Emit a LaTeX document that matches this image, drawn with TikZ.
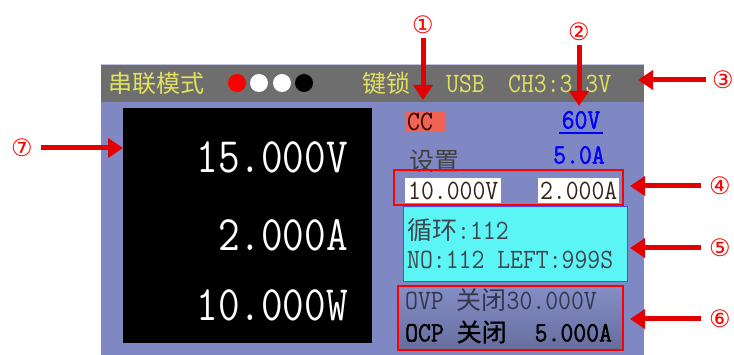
\documentclass[tikz,border=0pt]{standalone}
\usepackage{fontspec}
\usepackage{graphicx}
\setmainfont{Liberation Serif}
\newfontfamily\cjkf{Noto Sans CJK SC}
\newfontfamily\cjkb{Noto Sans CJK SC}[FakeBold=0.8]
\newfontfamily\ttb{Latin Modern Mono}[FakeBold=1.6]
\newfontfamily\symf{DejaVu Sans}
\usetikzlibrary{arrows.meta}
\newcommand{\Mt}[1]{\scalebox{1}[1.12]{\ttfamily #1}}
\newcommand{\Mb}[1]{\scalebox{1}[1.12]{\ttb #1}}
\newcommand{\Bt}[1]{\scalebox{1}[1.18]{\ttfamily #1}}
\newcommand{\Ct}[1]{{\cjkf #1}}
\definecolor{panel}{RGB}{128,136,196}
\definecolor{barg}{RGB}{110,110,110}
\definecolor{hdr}{RGB}{225,225,95}
\definecolor{ccred}{RGB}{240,100,85}
\definecolor{cyanbox}{RGB}{92,245,245}
\definecolor{txtdark}{RGB}{50,35,25}
\definecolor{arrowred}{RGB}{228,0,0}
\tikzset{
  mid/.style={font=\fontsize{25}{27}\selectfont, inner sep=0pt},
  big/.style={font=\fontsize{42}{44}\selectfont, text=white, inner sep=0pt, anchor=east},
  circnum/.style={font=\symf\fontsize{24}{24}\selectfont, text=red, inner sep=0pt},
  callout/.style={draw=arrowred, line width=5pt, -{Triangle[length=15pt,width=19pt]}},
  dot/.style={circle, minimum size=18pt, inner sep=0pt},
  redframe/.style={draw=red, line width=1.2pt},
  whitebox/.style={fill=white, minimum width=#1, minimum height=25pt, inner sep=0pt}
}
\begin{document}
\begin{tikzpicture}[x=1pt,y=-1pt]
\useasboundingbox (0,0) rectangle (734,355);
\fill[white] (0,0) rectangle (734,355);
% panel
\fill[panel] (101,64) rectangle (644,355);
\fill[barg] (101,65) rectangle (644,102);
\draw[panel!50!white, line width=1pt] (101,64.5) -- (644,64.5);
% header
\node[mid, anchor=west, text=hdr, font=\fontsize{24}{24}\selectfont] (mode) at (108,83) {\Ct{串联模式}};
\node[dot, fill=red] (d1) at (237,83) {};
\node[dot, fill=white] (d2) at (259,83) {};
\node[dot, fill=white] (d3) at (282,83) {};
\node[dot, fill=black] (d4) at (304,83) {};
\node[mid, anchor=west, text=hdr, font=\fontsize{24}{24}\selectfont] (lock) at (362,83) {\Ct{键锁}};
\node[mid, anchor=west, text=hdr] (usb) at (446,84) {\Mt{USB}};
\node[mid, anchor=west, text=hdr] (ch3) at (508,84) {\Mt{CH3:3.3V}};
% black display
\fill[black] (123,108) rectangle (372,343);
\node[big] (volt) at (348,157) {\Bt{15.000V}};
\node[big] (amp) at (348,235) {\Bt{2.000A}};
\node[big] (watt) at (348,305) {\Bt{10.000W}};
% right side
\node[mid, fill=ccred, anchor=west, minimum width=40pt, minimum height=19pt, text=black!85!red, align=left, text width=38pt, inner xsep=1pt] (cc) at (406,121.5) {\Mt{CC}};
\node[mid, text=blue] (v60) at (581,120) {\Mb{60V}};
\draw[blue, line width=1.8pt] (559,133) -- (603,133);
\node[mid, text=blue] (a5) at (579,155) {\Mb{5.0A}};
\node[mid, text=black!75, anchor=west] (set) at (409,161) {\Ct{设置}};
\draw[redframe] (394,170) rectangle (623,205);
\node[whitebox=96pt, anchor=west] (sv) at (405,190.5) {};
\node[mid, text=txtdark] at (sv) {\Mt{10.000V}};
\node[whitebox=81pt, anchor=west] (sa) at (538,190.5) {};
\node[mid, text=txtdark] at (sa) {\Mt{2.000A}};
\draw[fill=cyanbox, draw=blue!70, line width=1pt] (403,207) rectangle (627,282);
\node[mid, anchor=west, text=black!80!cyan] (loop) at (407,230) {\Ct{循环}\Mt{:112}};
\node[mid, anchor=west, text=black!80!cyan] (left) at (407,260) {\Mt{NO:112 LEFT:999S}};
\shade[top color=panel!95!white, bottom color=panel!80!black] (398,286) rectangle (623,350);
\draw[redframe] (398,286) rectangle (623,350);
\node[mid, anchor=west, text=black!60!panel] (ovp) at (405,300) {\Mt{OVP }\Ct{关闭}\Mt{30.000V}};
\node[mid, anchor=west, text=black] (ocp) at (405,332) {\Mb{OCP }{\cjkb 关闭}\hspace{28pt}\Mb{5.000A}};
% callouts
\node[circnum] (l1) at (423,25) {①};
\node[circnum] (l2) at (579,32) {②};
\node[circnum] (l3) at (723,80) {③};
\node[circnum] (l4) at (720,186) {④};
\node[circnum] (l5) at (720,248) {⑤};
\node[circnum] (l6) at (720,319) {⑥};
\node[circnum] (l7) at (22,148) {⑦};
\coordinate (t1) at (423,100);
\coordinate (t2) at (579,106);
\coordinate (t3) at (638,80);
\coordinate (t4) at (630,186);
\coordinate (t5) at (630,248);
\coordinate (t6) at (630,319);
\coordinate (t7) at (123,148);
\draw[callout, shorten <=4pt] (l1.south) -- (t1);
\draw[callout, shorten <=4pt] (l2.south) -- (t2);
\draw[callout, shorten <=6pt] (l3.west) -- (t3);
\draw[callout, shorten <=8pt] (l4.west) -- (t4);
\draw[callout, shorten <=8pt] (l5.west) -- (t5);
\draw[callout, shorten <=8pt] (l6.west) -- (t6);
\draw[callout, shorten <=8pt] (l7.east) -- (t7);
\end{tikzpicture}
\end{document}
